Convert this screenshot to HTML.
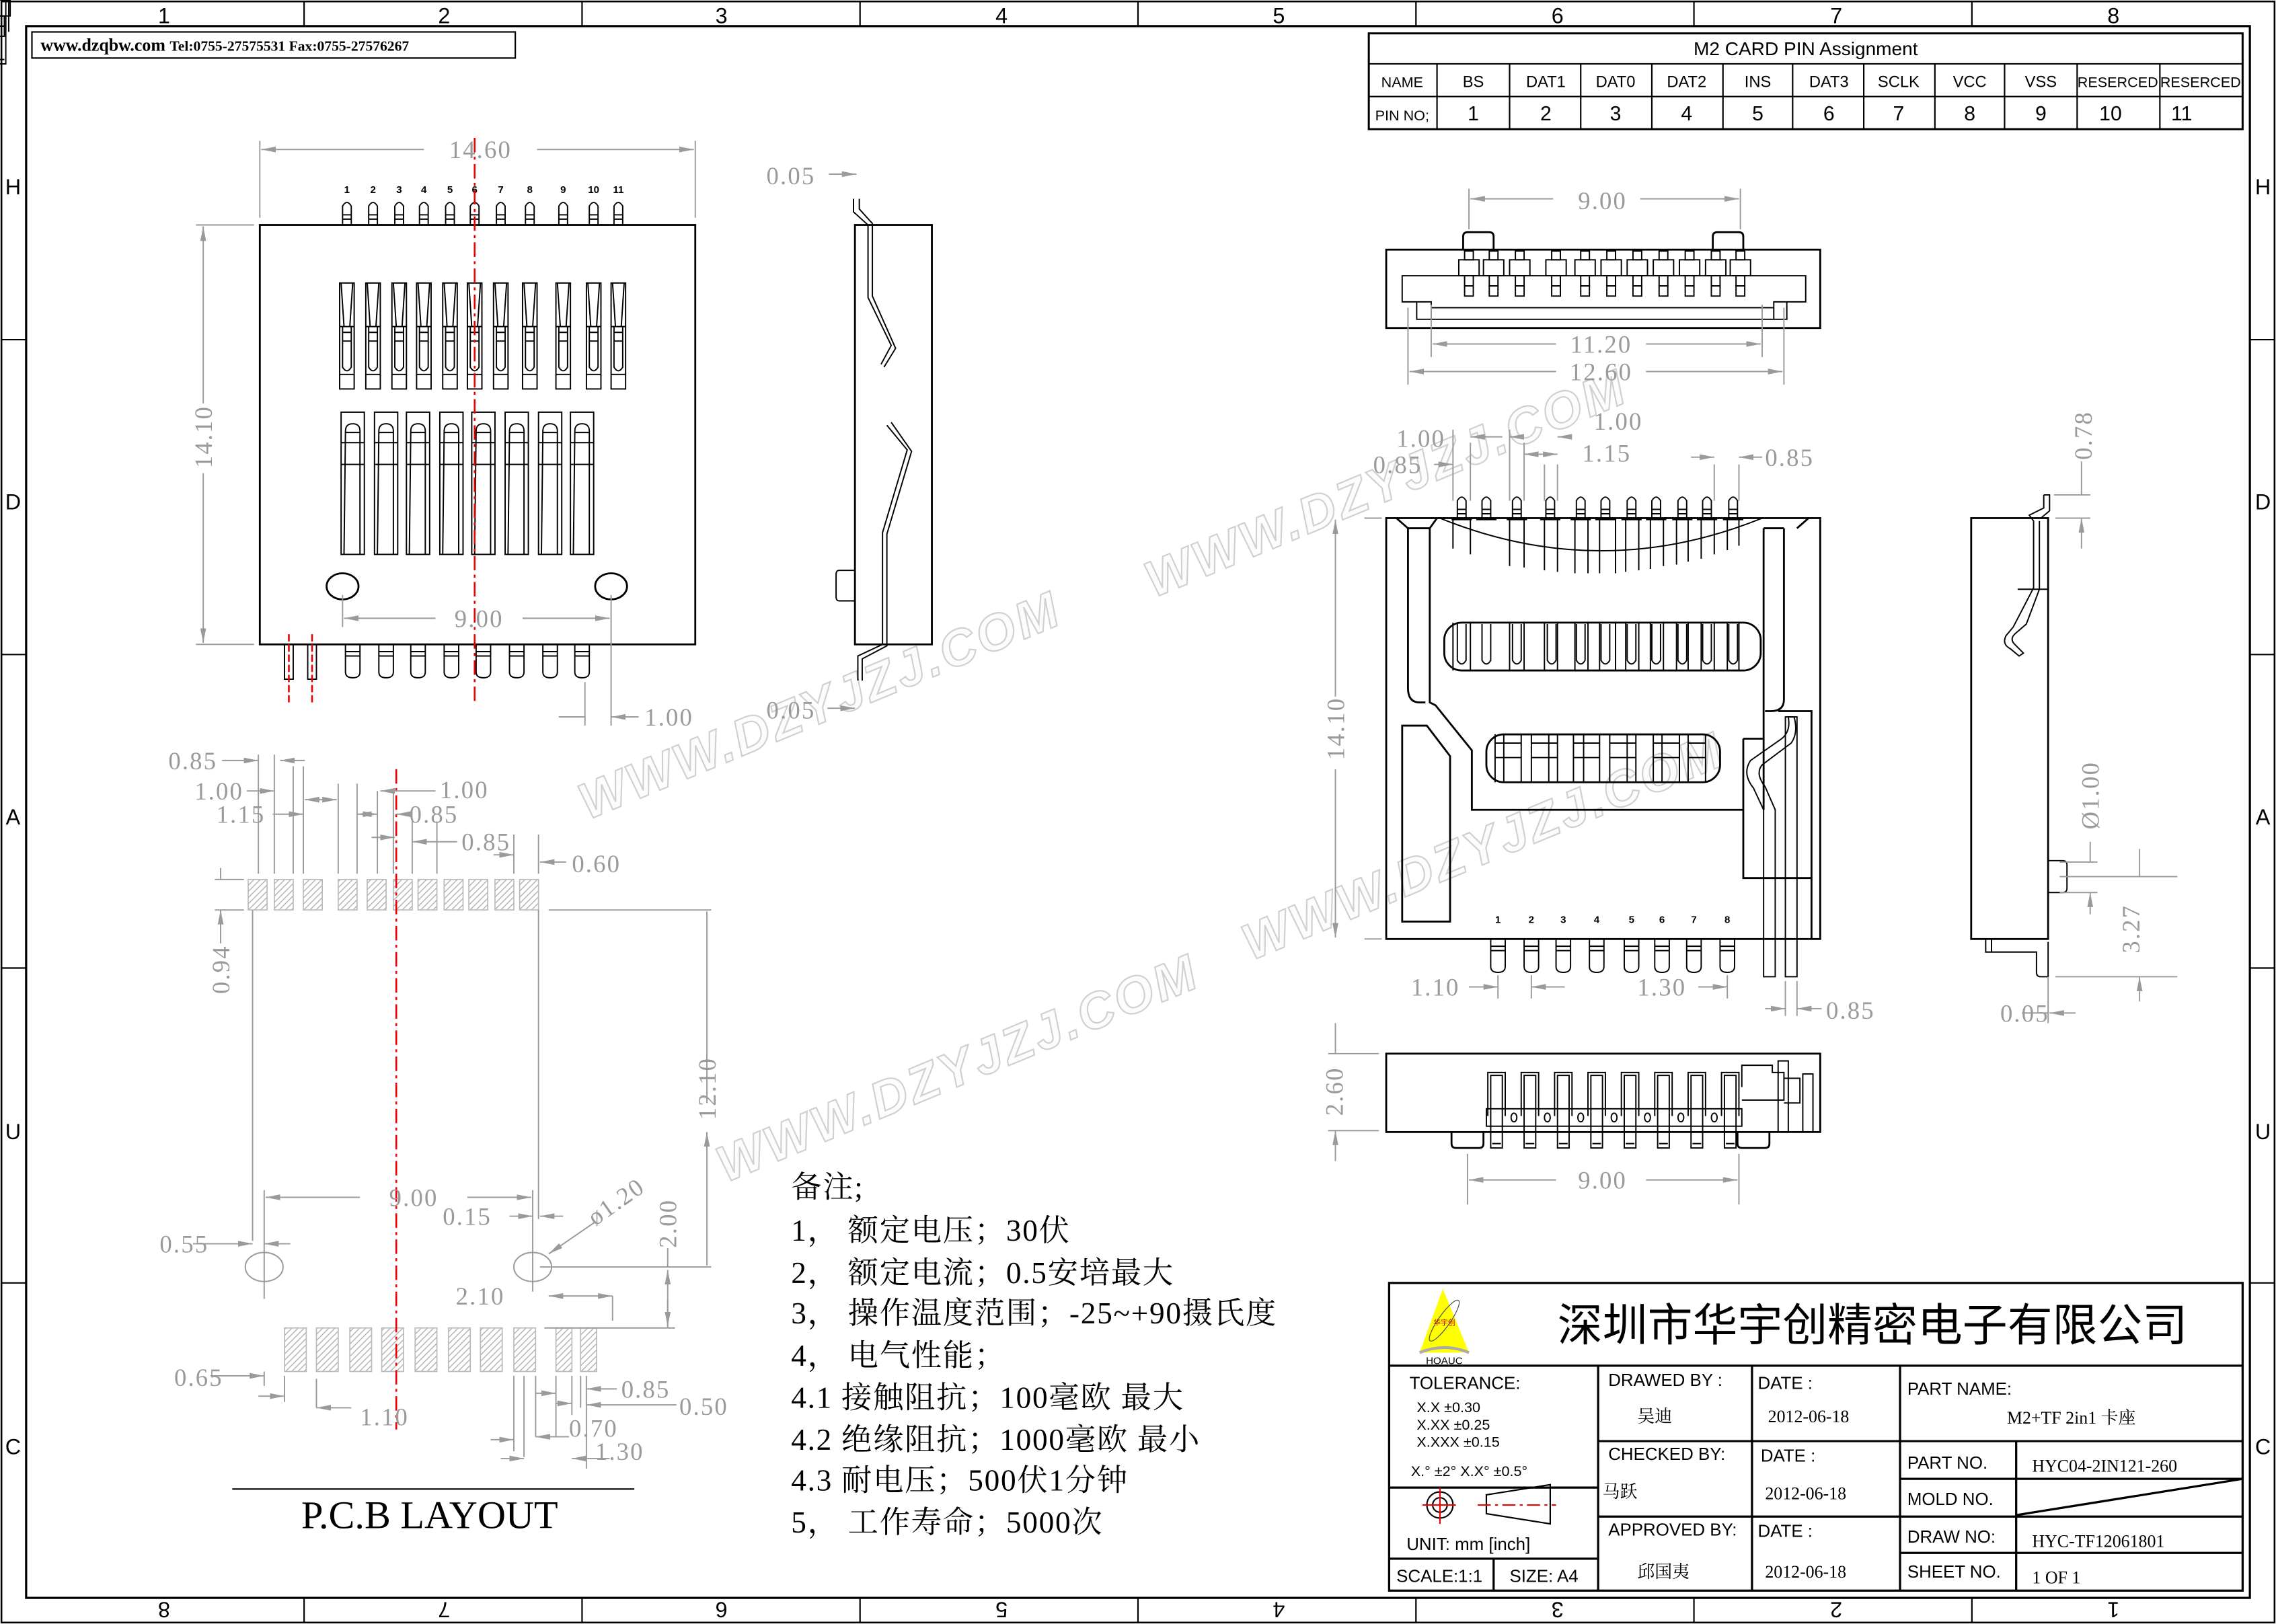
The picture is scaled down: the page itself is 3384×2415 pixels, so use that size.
<!DOCTYPE html>
<html><head><meta charset="utf-8">
<style>
html,body{margin:0;padding:0;background:#fff;}
svg{display:block;}
.k{fill:none;stroke:#000;stroke-width:1.3;}
.kt{fill:none;stroke:#000;stroke-width:0.9;}
.g{fill:none;stroke:#9a9a9a;stroke-width:0.9;}
.dt{font-family:"Liberation Serif",serif;font-size:17px;fill:#9a9a9a;letter-spacing:1px;}
.r{fill:none;stroke:#e00;stroke-width:1.2;stroke-dasharray:10,3,2,3;}
.tb{font-family:"Liberation Sans",sans-serif;font-size:12px;fill:#000;}
.ts{font-family:"Liberation Serif","Noto Serif CJK SC",serif;font-size:12px;fill:#000;}
.nt{font-family:"Liberation Serif","Noto Serif CJK SC",serif;font-size:21px;fill:#000;letter-spacing:0.8px;}
.wm{font-family:"Liberation Sans",sans-serif;font-style:italic;font-weight:bold;font-size:35px;fill:#fcfcfc;stroke:#d0d0d0;stroke-width:1;letter-spacing:2px;}
.gl{font-family:"Liberation Sans",sans-serif;font-size:15px;fill:#000;}
.pn{font-family:"Liberation Sans",sans-serif;font-size:7px;font-weight:bold;fill:#000;}
</style></head><body>
<svg width="3384" height="2415" viewBox="0 0 1568 1119" xmlns="http://www.w3.org/2000/svg">
<defs>
<marker id="a" viewBox="0 0 10 4" refX="10" refY="2" markerWidth="10" markerHeight="4" markerUnits="userSpaceOnUse" orient="auto-start-reverse"><path d="M0,0 L10,2 L0,4z" fill="#9a9a9a"/></marker>
<pattern id="h" width="3" height="3" patternUnits="userSpaceOnUse" patternTransform="rotate(45)"><line x1="0" y1="0" x2="0" y2="3" stroke="#aaa" stroke-width="1.2"/></pattern>
<g id="uc"><rect x="-5" y="0" width="10" height="73" class="kt"/><path d="M-4,0 L-2,30 M4,0 L2,30 M-5,30 H5 M-3,34 H3 M-3,40 H3 M-3,30 V58 Q0,63 3,58 V30 M-5,63 H5" class="kt"/></g>
<g id="lc"><rect x="-8" y="0" width="16" height="98" class="kt"/><path d="M-6,98 L-5,13 Q-5,8 0,8 Q5,8 5,13 L5,98 M-8,21 H8 M-5,14 H5 M-8,36 H8" class="kt"/></g>
<g id="tp"><path d="M-3,18 V5 Q0,0 3,5 V18 M-7,18 H7 M-3,11 H3 M-3,14 H3" class="kt"/></g>
<g id="bp"><path d="M-5,0 V19 Q-5,23 0,23 Q5,23 5,19 V0 M-5,5 H5 M-5,8 H5" class="kt"/></g>
</defs>

<rect x="1" y="1" width="1566" height="1117" fill="none" stroke="#000" stroke-width="1.2"/>
<rect x="18" y="18" width="1532" height="1083" fill="none" stroke="#000" stroke-width="1.5"/>
<g stroke="#000" stroke-width="1">
<path d="M209.5,1V18 M401,1V18 M592.5,1V18 M784,1V18 M975.5,1V18 M1167,1V18 M1358.5,1V18"/>
<path d="M209.5,1101V1118 M401,1101V1118 M592.5,1101V1118 M784,1101V1118 M975.5,1101V1118 M1167,1101V1118 M1358.5,1101V1118"/>
<path d="M1,234H18 M1,451H18 M1,667H18 M1,884H18 M1550,234H1567 M1550,451H1567 M1550,667H1567 M1550,884H1567"/>
</g>
<g class="gl" text-anchor="middle">
<text x="113" y="16">1</text><text x="306" y="16">2</text><text x="497" y="16">3</text><text x="690" y="16">4</text><text x="881" y="16">5</text><text x="1073" y="16">6</text><text x="1265" y="16">7</text><text x="1456" y="16">8</text>
<text x="9" y="134">H</text><text x="9" y="351">D</text><text x="9" y="568">A</text><text x="9" y="785">U</text><text x="9" y="1002">C</text>
<text x="1559" y="134">H</text><text x="1559" y="351">D</text><text x="1559" y="568">A</text><text x="1559" y="785">U</text><text x="1559" y="1002">C</text>
<text transform="translate(113,1104) rotate(180)">8</text><text transform="translate(306,1104) rotate(180)">7</text><text transform="translate(497,1104) rotate(180)">6</text><text transform="translate(690,1104) rotate(180)">5</text><text transform="translate(881,1104) rotate(180)">4</text><text transform="translate(1073,1104) rotate(180)">3</text><text transform="translate(1265,1104) rotate(180)">2</text><text transform="translate(1456,1104) rotate(180)">1</text>
</g>

<rect x="22" y="22" width="333" height="18" fill="none" stroke="#000" stroke-width="1"/>
<text x="28" y="35" font-family="Liberation Serif,serif" font-weight="bold" font-size="12" fill="#000">www.dzqbw.com <tspan font-size="10">Tel:0755-27575531  Fax:0755-27576267</tspan></text>

<g class="wm">
<text transform="translate(405,565) rotate(-22.5)">WWW.DZYJZJ.COM</text>
<text transform="translate(795,412) rotate(-22.5)">WWW.DZYJZJ.COM</text>
<text transform="translate(862,662) rotate(-22.5)">WWW.DZYJZJ.COM</text>
<text transform="translate(500,815) rotate(-22.5)">WWW.DZYJZJ.COM</text>
</g>

<g fill="none" stroke="#000" stroke-width="1">
<rect x="943" y="23" width="602" height="66" stroke-width="1.4"/>
<path d="M943,44H1545 M943,66.5H1545"/>
<path d="M990,44V89 M1040,44V89 M1089,44V89 M1138,44V89 M1187,44V89 M1235,44V89 M1284,44V89 M1333,44V89 M1381,44V89 M1431,44V89 M1488,44V89"/>
</g>
<g font-family="Liberation Sans,sans-serif" font-size="11" text-anchor="middle" fill="#000">
<text x="1244" y="38" font-size="13">M2 CARD PIN Assignment</text>
<text x="966" y="60" font-size="10">NAME</text><text x="1015" y="60">BS</text><text x="1065" y="60">DAT1</text><text x="1113" y="60">DAT0</text><text x="1162" y="60">DAT2</text><text x="1211" y="60">INS</text><text x="1260" y="60">DAT3</text><text x="1308" y="60">SCLK</text><text x="1357" y="60">VCC</text><text x="1406" y="60">VSS</text><text x="1459" y="60" font-size="10">RESERCED</text><text x="1516" y="60" font-size="10">RESERCED</text>
<text x="966" y="83" font-size="10">PIN NO;</text>
<g font-size="14"><text x="1015" y="83">1</text><text x="1065" y="83">2</text><text x="1113" y="83">3</text><text x="1162" y="83">4</text><text x="1211" y="83">5</text><text x="1260" y="83">6</text><text x="1308" y="83">7</text><text x="1357" y="83">8</text><text x="1406" y="83">9</text><text x="1454" y="83">10</text><text x="1503" y="83">11</text></g>
</g>

<rect x="179" y="155" width="300" height="289" class="k"/>
<g class="pn" text-anchor="middle">
<text x="239" y="133">1</text><text x="257" y="133">2</text><text x="275" y="133">3</text><text x="292" y="133">4</text><text x="310" y="133">5</text><text x="327" y="133">6</text><text x="345" y="133">7</text><text x="365" y="133">8</text><text x="388" y="133">9</text><text x="409" y="133">10</text><text x="426" y="133">11</text>
</g>
<g transform="translate(0,137)">
<use href="#tp" x="239"/><use href="#tp" x="257"/><use href="#tp" x="275"/><use href="#tp" x="292"/><use href="#tp" x="310"/><use href="#tp" x="327"/><use href="#tp" x="345"/><use href="#tp" x="365"/><use href="#tp" x="388"/><use href="#tp" x="409"/><use href="#tp" x="426"/>
</g>
<g transform="translate(0,195)">
<use href="#uc" x="239"/><use href="#uc" x="257"/><use href="#uc" x="275"/><use href="#uc" x="292"/><use href="#uc" x="310"/><use href="#uc" x="327"/><use href="#uc" x="345"/><use href="#uc" x="365"/><use href="#uc" x="388"/><use href="#uc" x="409"/><use href="#uc" x="426"/>
</g>
<g transform="translate(0,284)">
<use href="#lc" x="243"/><use href="#lc" x="266"/><use href="#lc" x="288"/><use href="#lc" x="311"/><use href="#lc" x="333"/><use href="#lc" x="356"/><use href="#lc" x="379"/><use href="#lc" x="401"/>
</g>
<ellipse cx="236" cy="404" rx="11" ry="9" class="k"/><ellipse cx="421" cy="404" rx="11" ry="9" class="k"/>
<g transform="translate(0,444)">
<use href="#bp" x="243"/><use href="#bp" x="266"/><use href="#bp" x="288"/><use href="#bp" x="311"/><use href="#bp" x="333"/><use href="#bp" x="356"/><use href="#bp" x="379"/><use href="#bp" x="401"/>
</g>
<rect x="196" y="444" width="6" height="24" class="kt"/><rect x="212" y="444" width="6" height="24" class="kt"/>
<path d="M199,437V484 M215,437V484" stroke="#e00" stroke-width="1.2" stroke-dasharray="5,2"/>
<path d="M327,95V485" class="r"/>
<path d="M179,97V150 M479,97V150" class="g"/>
<path d="M180,103H292 M370,103H478" class="g" marker-start="url(#a)" marker-end="url(#a)"/>
<text x="331" y="109" class="dt" text-anchor="middle">14.60</text>
<path d="M135,155H175 M135,444H175" class="g"/>
<path d="M140,156V278 M140,326V443" class="g" marker-start="url(#a)" marker-end="url(#a)"/>
<text class="dt" text-anchor="middle" transform="translate(146,301) rotate(-90)">14.10</text>
<path d="M236,410V432 M421,410V500" class="g"/>
<path d="M237,426H300 M360,426H420" class="g" marker-start="url(#a)" marker-end="url(#a)"/>
<text x="330" y="432" class="dt" text-anchor="middle">9.00</text>
<path d="M403,470V500" class="g"/>
<path d="M385,494H403 M440,494H421" class="g" marker-end="url(#a)"/>
<text x="444" y="500" class="dt">1.00</text>

<rect x="589" y="155" width="53" height="289" class="k"/>
<path d="M588,137 V146 L598,155 V205 L614,238 L607,251 M592,137 V144 L601,154 V204 L617,240 L609,253" class="kt"/>
<path d="M611,293 L625,310 L608,367 V444 L591,452 V469 M614,291 L628,311 L611,368 V445 L594,454 V469" class="kt"/>
<path d="M589,393 H578 Q576,393 576,396 V411 Q576,414 578,414 H589" class="kt"/>
<path d="M571,120H590" class="g" marker-end="url(#a)"/>
<text x="528" y="127" class="dt">0.05</text>
<text x="528" y="495" class="dt">0.05</text>
<path d="M570,488H589" class="g" marker-end="url(#a)"/>

<rect x="955" y="172" width="299" height="54" class="k"/>
<path d="M1008,172 V163 Q1008,160 1011,160 H1026 Q1029,160 1029,163 V172 M1180,172 V163 Q1180,160 1183,160 H1198 Q1201,160 1201,163 V172" class="k"/>
<path d="M966,190 H1244 V208 H1231 V220 H976 V208 H966 Z M976,208 H986 V220 M1231,208 H1222 V220 M986,212 H1222" class="kt"/>
<g class="kt">
<g id="fp"><rect x="-7" y="0" width="14" height="11"/><rect x="-3" y="-6" width="6" height="6"/><rect x="-3" y="11" width="6" height="7"/><rect x="-3" y="18" width="6" height="7"/></g>
</g>
<g transform="translate(0,179)" class="kt">
<use href="#fp" x="1012"/><use href="#fp" x="1029"/><use href="#fp" x="1047"/><use href="#fp" x="1072"/><use href="#fp" x="1092"/><use href="#fp" x="1110"/><use href="#fp" x="1128"/><use href="#fp" x="1146"/><use href="#fp" x="1164"/><use href="#fp" x="1182"/><use href="#fp" x="1199"/>
</g>
<path d="M1012,130V158 M1199,130V158 M986,210V246 M1214,210V246 M970,212V265 M1229,212V265" class="g"/>
<path d="M1013,137H1070 M1130,137H1198" class="g" marker-start="url(#a)" marker-end="url(#a)"/>
<text x="1104" y="144" class="dt" text-anchor="middle">9.00</text>
<path d="M987,237H1072 M1134,237H1213" class="g" marker-start="url(#a)" marker-end="url(#a)"/>
<text x="1103" y="243" class="dt" text-anchor="middle">11.20</text>
<path d="M971,256H1072 M1134,256H1228" class="g" marker-start="url(#a)" marker-end="url(#a)"/>
<text x="1103" y="262" class="dt" text-anchor="middle">12.60</text>

<rect x="955" y="357" width="299" height="290" class="k"/>
<g transform="translate(0,340)">
<use href="#tp" x="1007"/><use href="#tp" x="1024"/><use href="#tp" x="1045"/><use href="#tp" x="1068"/><use href="#tp" x="1089"/><use href="#tp" x="1106"/><use href="#tp" x="1124"/><use href="#tp" x="1141"/><use href="#tp" x="1159"/><use href="#tp" x="1176"/><use href="#tp" x="1194"/>
</g>
<path d="M992,357 Q1103,402 1214,357" class="kt"/>
<path d="M1001,357V378 M1013,357V382 M1040,357V390 M1050,357V391 M1064,357V393 M1073,357V394 M1085,357V395 M1094,357V395 M1102,357V395 M1113,357V395 M1120,357V394 M1129,357V393 M1137,357V392 M1146,357V390 M1155,357V389 M1163,357V387 M1172,357V385 M1181,357V382 M1190,357V379 M1198,357V376" class="kt"/>
<path d="M962,357 L970,364 V474 Q970,484 978,484 H982 M985,364 L990,357 M985,364 V484 L989,486 L1014,517 V558 H1201 M970,364 H985" class="k"/>
<path d="M1238,364 L1246,357 M1229,364 V482 Q1229,490 1220,490 H1216 M1215,364 V490 M1215,364 H1229 M1215,490 V558" class="k"/>
<rect x="995" y="429" width="218" height="33" rx="12" class="k"/>
<g class="kt">
<path d="M1001,429V462 M1013,429V462 M1040,429V462 M1050,429V462 M1064,429V462 M1073,429V462 M1085,429V462 M1094,429V462 M1102,429V462 M1113,429V462 M1120,429V462 M1129,429V462 M1137,429V462 M1146,429V462 M1155,429V462 M1163,429V462 M1172,429V462 M1181,429V462 M1190,429V462 M1198,429V462"/>
<path d="M1004,430V455 Q1007,460 1010,455 V430 M1021,430V455 Q1024,460 1027,455 V430 M1042,430V455 Q1045,460 1048,455 V430 M1066,430V455 Q1069,460 1072,455 V430 M1086,430V455 Q1089,460 1092,455 V430 M1103,430V455 Q1106,460 1109,455 V430 M1121,430V455 Q1124,460 1127,455 V430 M1138,430V455 Q1141,460 1144,455 V430 M1156,430V455 Q1159,460 1162,455 V430 M1173,430V455 Q1176,460 1179,455 V430 M1191,430V455 Q1194,460 1197,455 V430"/>
</g>
<rect x="1024" y="506" width="161" height="33" rx="12" class="k"/>
<g class="kt">
<path d="M1030,506V539 M1036,506V539 M1048,506V539 M1055,506V539 M1067,506V539 M1073,506V539 M1084,506V539 M1091,506V539 M1102,506V539 M1109,506V539 M1121,506V539 M1127,506V539 M1139,506V539 M1145,506V539 M1157,506V539 M1163,506V539 M1175,506V539"/>
<path d="M1030,512H1048 M1055,512H1073 M1084,512H1102 M1109,512H1127 M1139,512H1157 M1163,512H1175 M1030,522H1048 M1055,522H1073 M1084,522H1102 M1109,522H1127 M1139,522H1157 M1163,522H1175"/>
</g>
<path d="M966,500 H983 L999,521 V635 H966 Z" class="k"/>
<path d="M1201,509 H1215 M1201,509 V605 H1248 M1225,490 H1248 V647" class="k"/>
<path d="M1232,494 Q1234,505 1226,510 L1206,524 Q1200,533 1208,543 L1215,558 V673 H1223 V558 L1216,542 Q1209,533 1214,527 L1234,512 Q1239,505 1236,494 Z" class="kt"/>
<path d="M1230,494 H1238 V673 H1230 Z" class="kt"/>
<g class="pn" text-anchor="middle">
<text x="1032" y="636">1</text><text x="1055" y="636">2</text><text x="1077" y="636">3</text><text x="1100" y="636">4</text><text x="1124" y="636">5</text><text x="1145" y="636">6</text><text x="1167" y="636">7</text><text x="1190" y="636">8</text>
</g>
<g transform="translate(0,647)">
<use href="#bp" x="1032"/><use href="#bp" x="1055"/><use href="#bp" x="1077"/><use href="#bp" x="1100"/><use href="#bp" x="1124"/><use href="#bp" x="1145"/><use href="#bp" x="1167"/><use href="#bp" x="1190"/>
</g>
<path d="M1001,296V345 M1013,305V345 M1040,296V345 M1050,305V345 M1064,320V345 M1073,320V345 M1181,320V345 M1198,320V345" class="g"/>
<path d="M1035,301H1013" class="g" marker-end="url(#a)"/><text x="962" y="308" class="dt">1.00</text>
<path d="M988,320H1001" class="g" marker-end="url(#a)"/><text x="946" y="326" class="dt">0.85</text>
<path d="M1040,301H1050 " class="g" marker-start="url(#a)"/><path d="M1083,301H1073" class="g" marker-end="url(#a)"/><text x="1098" y="296" class="dt">1.00</text>
<path d="M1050,313H1073" class="g" marker-start="url(#a)" marker-end="url(#a)"/><text x="1090" y="318" class="dt">1.15</text>
<path d="M1165,315H1181" class="g" marker-end="url(#a)"/><path d="M1214,315H1198" class="g" marker-end="url(#a)"/><text x="1216" y="321" class="dt">0.85</text>
<path d="M940,357H952 M940,647H952" class="g"/>
<path d="M920,358V480 M920,530V646" class="g" marker-start="url(#a)" marker-end="url(#a)"/>
<text class="dt" text-anchor="middle" transform="translate(926,502) rotate(-90)">14.10</text>
<path d="M1032,672V688 M1055,672V688 M1190,672V688 M1230,676V700 M1238,676V700" class="g"/>
<path d="M1012,680H1032" class="g" marker-end="url(#a)"/><path d="M1078,680H1055" class="g" marker-end="url(#a)"/>
<text x="972" y="686" class="dt">1.10</text>
<path d="M1170,680H1190" class="g" marker-end="url(#a)"/><text x="1128" y="686" class="dt">1.30</text>
<path d="M1216,695H1230" class="g" marker-end="url(#a)"/><path d="M1255,695H1238" class="g" marker-end="url(#a)"/>
<text x="1258" y="702" class="dt">0.85</text>

<rect x="1358" y="357" width="53" height="290" class="k"/>
<path d="M1408,341 H1412 V352 L1406,357 M1408,341 V350 L1398,355 L1401,359 V405 L1387,432 L1382,438 Q1379,444 1385,447 L1391,452 L1394,450 L1388,444 Q1384,440 1389,436 L1396,430 L1405,406 V359 M1390,406 H1411" class="kt"/>
<path d="M1411,593 H1421 Q1424,593 1424,596 V612 Q1424,615 1421,615 H1411" class="kt"/>
<path d="M1368,647 V656 H1372 V647 M1372,656 H1403 V670 Q1403,673 1406,673 H1411 V649" class="kt"/>
<path d="M1415,341H1440 M1416,357H1440 M1419,594H1445 M1419,604H1500 M1419,615H1445 M1416,673H1500" class="g"/>
<path d="M1434,318V341 M1434,378V357" class="g" marker-end="url(#a)"/>
<text class="dt" text-anchor="middle" transform="translate(1441,300) rotate(-90)">0.78</text>
<path d="M1440,580V594 M1440,630V615" class="g" marker-end="url(#a)"/>
<text class="dt" text-anchor="middle" transform="translate(1446,548) rotate(-90)">Ø1.00</text>
<path d="M1474,585V604 M1474,690V673" class="g" marker-end="url(#a)"/>
<text class="dt" text-anchor="middle" transform="translate(1474,640) rotate(-90)">3.27</text>
<path d="M1411,673V705" class="g"/>
<path d="M1393,698H1411 M1430,698H1412" class="g" marker-end="url(#a)"/>
<text x="1378" y="704" class="dt">0.05</text>

<rect x="955" y="726" width="299" height="54" class="k"/>
<path d="M1000,780 V788 Q1000,791 1003,791 H1019 Q1022,791 1022,788 V780 M1197,780 V788 Q1197,791 1200,791 H1216 Q1219,791 1219,788 V780" class="k"/>
<g class="kt">
<g id="sp"><path d="M-6,22 V-8 H6 V22 M-4,22 V-6 H4 V22 M-4,22 V44 H4 V22 M-3,41 H3"/></g>
</g>
<g transform="translate(0,747)" class="kt">
<use href="#sp" x="1031"/><use href="#sp" x="1054"/><use href="#sp" x="1077"/><use href="#sp" x="1100"/><use href="#sp" x="1123"/><use href="#sp" x="1146"/><use href="#sp" x="1169"/><use href="#sp" x="1192"/>
</g>
<rect x="1024" y="764" width="176" height="12" class="kt"/>
<path d="M1043,770 m-2,0 a2,3 0 1,0 4,0 a2,3 0 1,0 -4,0 M1066,770 m-2,0 a2,3 0 1,0 4,0 a2,3 0 1,0 -4,0 M1089,770 m-2,0 a2,3 0 1,0 4,0 a2,3 0 1,0 -4,0 M1112,770 m-2,0 a2,3 0 1,0 4,0 a2,3 0 1,0 -4,0 M1135,770 m-2,0 a2,3 0 1,0 4,0 a2,3 0 1,0 -4,0 M1158,770 m-2,0 a2,3 0 1,0 4,0 a2,3 0 1,0 -4,0 M1181,770 m-2,0 a2,3 0 1,0 4,0 a2,3 0 1,0 -4,0" class="kt"/>
<path d="M1200,749 V734 H1221 V739 H1229 V758 H1200 M1229,743 H1240 V760 H1229 M1225,731 H1232 V780 H1225 Z M1242,740 H1249 V780 H1242 Z" class="kt"/>
<path d="M915,726H950 M915,779H950" class="g"/>
<path d="M920,705V726 M920,800V779" class="g" marker-end="url(#a)"/>
<text class="dt" text-anchor="middle" transform="translate(925,752) rotate(-90)">2.60</text>
<path d="M1011,795V830 M1198,795V830" class="g"/>
<path d="M1012,813H1072 M1134,813H1197" class="g" marker-start="url(#a)" marker-end="url(#a)"/>
<text x="1104" y="819" class="dt" text-anchor="middle">9.00</text>

<g fill="url(#h)" stroke="#bbb" stroke-width="0.8">
<rect x="171" y="606" width="13" height="21"/><rect x="189" y="606" width="13" height="21"/><rect x="209" y="606" width="13" height="21"/><rect x="233" y="606" width="13" height="21"/><rect x="253" y="606" width="13" height="21"/><rect x="271" y="606" width="13" height="21"/><rect x="288" y="606" width="13" height="21"/><rect x="306" y="606" width="13" height="21"/><rect x="323" y="606" width="13" height="21"/><rect x="341" y="606" width="13" height="21"/><rect x="358" y="606" width="13" height="21"/>
<rect x="196" y="915" width="15" height="30"/><rect x="218" y="915" width="15" height="30"/><rect x="241" y="915" width="15" height="30"/><rect x="263" y="915" width="15" height="30"/><rect x="286" y="915" width="15" height="30"/><rect x="309" y="915" width="15" height="30"/><rect x="331" y="915" width="15" height="30"/><rect x="354" y="915" width="15" height="30"/><rect x="383" y="915" width="11" height="30"/><rect x="400" y="915" width="11" height="30"/>
</g>
<ellipse cx="182" cy="873" rx="13" ry="10" class="g"/><ellipse cx="367" cy="873" rx="13" ry="10" class="g"/>
<path d="M273,530V985" class="r"/>
<path d="M174,627V855 M371,627V840 M182,820V895 M367,820V890 M378,627H490 M372,873H490 M375,915H465 M148,606H168 M148,627H168" class="g"/>
<path d="M487,628V760 M487,872V780" class="g" marker-end="url(#a)"/>
<text class="dt" text-anchor="middle" transform="translate(493,750) rotate(-90)">12.10</text>
<path d="M152,598V606 M152,650V627" class="g" marker-end="url(#a)"/>
<text class="dt" text-anchor="middle" transform="translate(158,668) rotate(-90)">0.94</text>
<path d="M460,860V873 M460,895V915" class="g"/>
<path d="M460,875V914" class="g" marker-start="url(#a)" marker-end="url(#a)"/>
<text class="dt" text-anchor="middle" transform="translate(466,843) rotate(-90)">2.00</text>
<path d="M183,825H248 M322,825H366" class="g" marker-start="url(#a)" marker-end="url(#a)"/>
<text x="285" y="831" class="dt" text-anchor="middle">9.00</text>
<path d="M351,838H367" class="g" marker-end="url(#a)"/><path d="M388,838H372" class="g" marker-end="url(#a)"/>
<text x="305" y="844" class="dt">0.15</text>
<path d="M133,857H174" class="g" marker-end="url(#a)"/><path d="M200,857H182" class="g" marker-end="url(#a)"/>
<text x="110" y="863" class="dt">0.55</text>
<path d="M378,893H422" class="g" marker-start="url(#a)" marker-end="url(#a)"/><path d="M422,893V910" class="g"/>
<text x="314" y="899" class="dt">2.10</text>
<path d="M410,842L378,864" class="g" marker-end="url(#a)"/>
<text class="dt" transform="translate(410,845) rotate(-35)">ø1.20</text>
<path d="M145,948H182" class="g" marker-end="url(#a)"/><text x="120" y="955" class="dt">0.65</text>
<path d="M182,945V955 M196,948V966 M218,950V970" class="g"/>
<path d="M178,962H196" class="g" marker-end="url(#a)"/><path d="M242,970H218" class="g" marker-end="url(#a)"/>
<text x="248" y="982" class="dt">1.10</text>
<path d="M178,520V602 M189,520V602 M202,528V602 M209,528V602 M233,540V602 M246,540V602 M260,545V602 M271,545V602 M284,566V602 M301,566V602 M354,575V602 M371,575V602" class="g"/>
<path d="M153,524H178" class="g" marker-end="url(#a)"/><path d="M210,524H193" class="g" marker-end="url(#a)"/><text x="116" y="530" class="dt">0.85</text>
<path d="M170,545H189" class="g" marker-end="url(#a)"/><text x="134" y="551" class="dt">1.00</text>
<path d="M188,561H209" class="g" marker-end="url(#a)"/><text x="149" y="567" class="dt">1.15</text>
<path d="M210,551H232" class="g" marker-start="url(#a)" marker-end="url(#a)"/>
<path d="M246,561H260" class="g" marker-start="url(#a)" marker-end="url(#a)"/>
<path d="M300,545H262" class="g" marker-end="url(#a)"/><text x="303" y="550" class="dt">1.00</text>
<path d="M280,561H273" class="g" marker-end="url(#a)"/><text x="282" y="567" class="dt">0.85</text>
<path d="M256,577H272" class="g" marker-end="url(#a)"/><path d="M315,580H284" class="g" marker-end="url(#a)"/><text x="318" y="586" class="dt">0.85</text>
<path d="M340,589H354" class="g" marker-end="url(#a)"/><path d="M390,594H372" class="g" marker-end="url(#a)"/><text x="394" y="601" class="dt">0.60</text>
<path d="M354,948V1000 M361,948V1004 M369,948V990 M383,948V990 M394,948V975 M400,948V970 M404,948V1012" class="g"/>
<path d="M369,960H383" class="g" marker-end="url(#a)"/><path d="M383,967H394" class="g" marker-end="url(#a)"/>
<path d="M425,957H404" class="g" marker-end="url(#a)"/><text x="428" y="963" class="dt">0.85</text>
<path d="M466,968H404" class="g" marker-end="url(#a)"/><text x="468" y="975" class="dt">0.50</text>
<path d="M338,992H354" class="g" marker-end="url(#a)"/><path d="M392,990H369" class="g" marker-end="url(#a)"/><text x="392" y="990" class="dt">0.70</text>
<path d="M345,1005H361" class="g" marker-end="url(#a)"/><path d="M420,1005H394" class="g" marker-end="url(#a)"/><text x="410" y="1006" class="dt">1.30</text>
<path d="M160,1026H437" stroke="#000" stroke-width="1"/>
<text x="296" y="1053" text-anchor="middle" font-family="Liberation Serif,serif" font-size="27" fill="#000">P.C.B LAYOUT</text>

<g class="nt">
<text x="545" y="825">备注;</text>
<text x="545" y="855">1，  额定电压；30伏</text>
<text x="545" y="884">2，  额定电流；0.5安培最大</text>
<text x="545" y="912">3，  操作温度范围；-25~+90摄氏度</text>
<text x="545" y="941">4，  电气性能；</text>
<text x="545" y="970">4.1 接触阻抗；100毫欧  最大</text>
<text x="545" y="999">4.2 绝缘阻抗；1000毫欧  最小</text>
<text x="545" y="1027">4.3 耐电压；500伏1分钟</text>
<text x="545" y="1056">5，  工作寿命；5000次</text>
</g>

<g fill="none" stroke="#000" stroke-width="1.5">
<rect x="957" y="884" width="588" height="212"/>
<path d="M957,941H1545 M1101,941V1096 M1207,941V1096 M1309,941V1096 M1101,993H1309 M1101,1045H1545 M1309,993H1545 M1309,1019H1545 M1309,1070H1545 M1389,993V1096 M957,1025H1101 M957,1074H1101 M1029,1074V1096"/>
<path d="M1389,1044L1545,1019"/>
</g>
<path d="M994,888 L1012,932 H978 Z" fill="#ff0"/>
<path d="M978,932 Q995,925 1012,932" stroke="#aaa" stroke-width="2" fill="none"/>
<ellipse cx="995" cy="910" rx="4" ry="17" transform="rotate(35,995,910)" fill="none" stroke="#555" stroke-width="0.6"/>
<text x="995" y="913" font-family="Noto Sans CJK SC,sans-serif" font-size="5" text-anchor="middle" fill="#c00">华宇创</text>
<text x="995" y="940" font-family="Liberation Sans,sans-serif" font-size="7" text-anchor="middle" fill="#000">HOAUC</text>
<text x="1290" y="924" text-anchor="middle" font-family="Liberation Sans,Noto Sans CJK SC,sans-serif" font-size="31" fill="#000">深圳市华宇创精密电子有限公司</text>
<g class="tb">
<text x="971" y="957">TOLERANCE:</text>
<text x="976" y="973" font-size="10">X.X     ±0.30</text>
<text x="976" y="985" font-size="10">X.XX    ±0.25</text>
<text x="976" y="997" font-size="10">X.XXX  ±0.15</text>
<text x="972" y="1017" font-size="10">X.° ±2°     X.X° ±0.5°</text>
<text x="969" y="1068">UNIT:  mm  [inch]</text>
<text x="962" y="1090">SCALE:1:1</text>
<text x="1040" y="1090">SIZE:  A4</text>
<text x="1108" y="955">DRAWED  BY  :</text>
<text x="1211" y="957">DATE  :</text>
<text x="1108" y="1006">CHECKED  BY:</text>
<text x="1213" y="1007">DATE  :</text>
<text x="1108" y="1058">APPROVED  BY:</text>
<text x="1211" y="1059">DATE  :</text>
<text x="1314" y="961">PART  NAME:</text>
<text x="1314" y="1012">PART  NO.</text>
<text x="1314" y="1037">MOLD  NO.</text>
<text x="1314" y="1063">DRAW  NO:</text>
<text x="1314" y="1087">SHEET  NO.</text>
</g>
<g class="ts">
<text x="1128" y="980">吴迪</text><text x="1218" y="980">2012-06-18</text>
<text x="1104" y="1032">马跃</text><text x="1216" y="1033">2012-06-18</text>
<text x="1128" y="1087">邱国夷</text><text x="1216" y="1087">2012-06-18</text>
<text x="1427" y="981" text-anchor="middle">M2+TF 2in1 卡座</text>
<text x="1400" y="1014">HYC04-2IN121-260</text>
<text x="1400" y="1066">HYC-TF12061801</text>
<text x="1400" y="1091">1 OF 1</text>
</g>
<circle cx="992" cy="1037" r="9" fill="none" stroke="#000"/><circle cx="992" cy="1037" r="5" fill="none" stroke="#000"/>
<path d="M980,1037H1003 M992,1025V1050" stroke="#e00" stroke-width="1"/>
<path d="M1024,1030 L1068,1023 V1050 L1024,1043 Z" fill="none" stroke="#000"/>
<path d="M1018,1037H1072" stroke="#e00" stroke-width="1" stroke-dasharray="9,3,2,3"/>
</svg>
</body></html>
